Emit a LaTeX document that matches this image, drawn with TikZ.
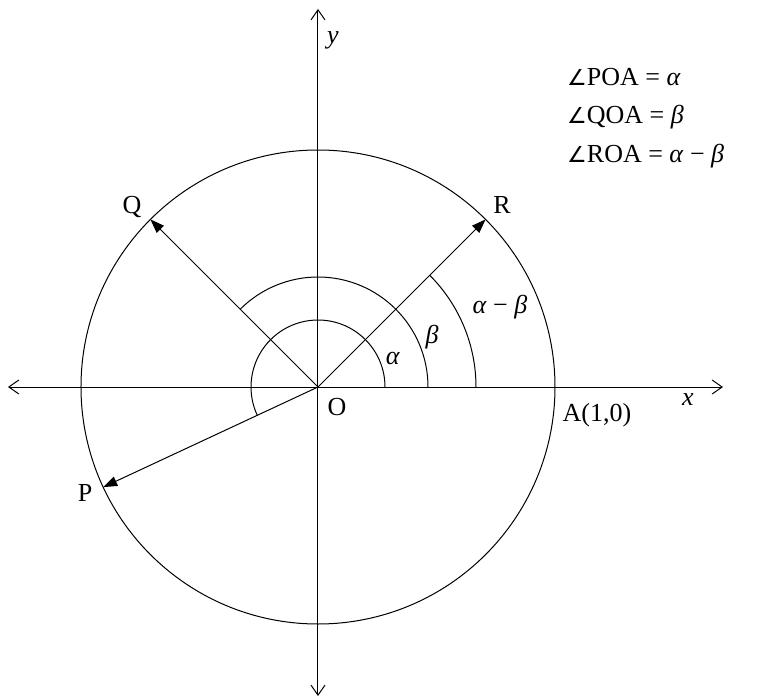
\documentclass[tikz,border=0pt]{standalone}
\usepackage{fontspec}
\setmainfont{Liberation Serif}
\newfontfamily\symfont{DejaVu Sans}
\usetikzlibrary{arrows.meta}

\begin{document}
\begin{tikzpicture}[x=1pt,y=1pt,
        axis/.style={line width=1pt,
        {Straight Barb[length=10pt,width=14pt]}-{Straight Barb[length=10pt,width=14pt]}},
        ray/.style={line width=1pt,-{Triangle[length=14pt,width=10pt]}},
        lbl/.style={font=\fontsize{26}{31}\selectfont, inner sep=0pt},
        ]
        \useasboundingbox (-318,-310) rectangle (443,387);

        \coordinate (O) at (0,0);
        \coordinate (xl) at (-310,0);
        \coordinate (xr) at (405,0);
        \coordinate (yt) at (0,378);
        \coordinate (yb) at (0,-309);
        \coordinate (A) at (0:237);
        \coordinate (P) at (205:237);
        \coordinate (Q) at (135:237);
        \coordinate (R) at (45:237);

        % axes and unit circle
        \draw[axis] (xl) -- (xr);
        \draw[axis] (yb) -- (yt);
        \draw[line width=1pt] (O) circle[radius=237];

        \draw[ray] (O) -- (P);
        \draw[ray] (O) -- (Q);
        \draw[ray] (O) -- (R);

        % angle arcs
        \draw[line width=1pt] (67,0) arc[start angle=0, end angle=205, radius=67];
        \draw[line width=1pt] (110,0) arc[start angle=0, end angle=135, radius=110];
        \draw[line width=1pt] (158,0) arc[start angle=0, end angle=45, radius=158];

        \node (ly) [lbl] at (15,347) {\textit{y}};
        \node (lx) [lbl] at (370,-13) {\textit{x}};
        \node (lO) [lbl] at (19,-20) {O};
        \node (lA) [lbl] at (279,-28) {A(1,0)};
        \node (lP) [lbl] at (-233,-106) {P};
        \node (lQ) [lbl] at (-186,180) {Q};
        \node (lR) [lbl] at (184,182) {R};
        \node (la) [lbl] at (75,29) {\textit{α}};
        \node (lb) [lbl] at (114,50) {\textit{β}};
        \node (lab) [lbl] at (182,80) {\textit{α} − \textit{β}};

        \node (l1) [lbl, anchor=base west] at (249,301) {{\symfont\fontsize{22}{26}\selectfont ∠}POA = \textit{α}};
        \node (l2) [lbl, anchor=base west] at (249,263) {{\symfont\fontsize{22}{26}\selectfont ∠}QOA = \textit{β}};
        \node (l3) [lbl, anchor=base west] at (249,225) {{\symfont\fontsize{22}{26}\selectfont ∠}ROA = \textit{α} − \textit{β}};
\end{tikzpicture}
\end{document}
